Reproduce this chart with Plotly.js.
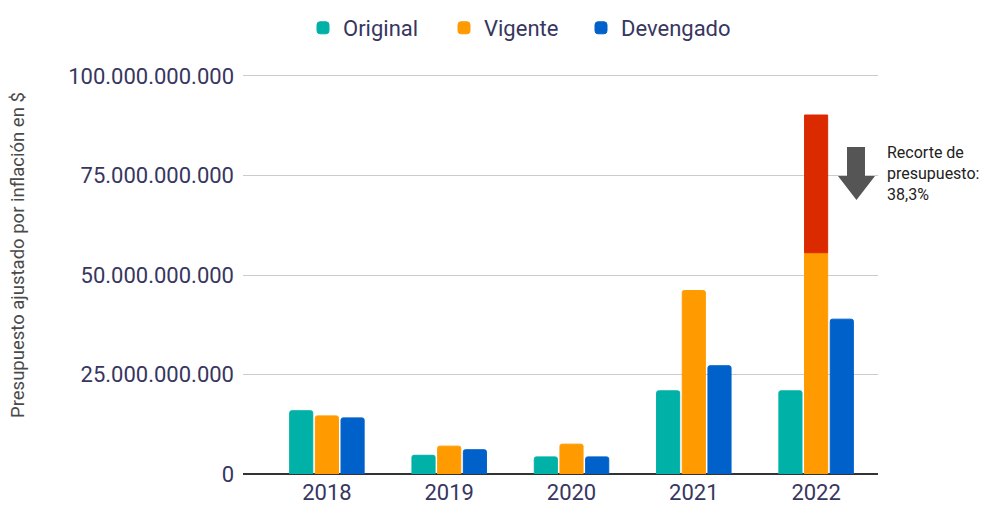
<!DOCTYPE html>
<html>
<head>
<meta charset="utf-8">
<script src="https://cdn.plot.ly/plotly-3.0.1.min.js"></script>
<style>html,body{margin:0;padding:0;background:#fff;}#chart{width:981px;height:505px;}</style>
</head>
<body>
<div id="chart"></div>
<script>
const years = ['2018', '2019', '2020', '2021', '2022'];
const original = [15.9e9, 4.7e9, 4.3e9, 20.9e9, 20.9e9];
const vigente = [14.6e9, 7.0e9, 7.5e9, 46.1e9, 55.6e9];
const devengado = [14.1e9, 6.1e9, 4.3e9, 27.2e9, 38.9e9];
const recorteYear = ['2022'];
const recorteTotal = [90.2e9];
const yTickVals = [0, 25e9, 50e9, 75e9, 100e9];
const yTickText = ['0', '25.000.000.000', '50.000.000.000', '75.000.000.000', '100.000.000.000'];

const vigBase = recorteYear.map(y => vigente[years.indexOf(y)]);
const recorteVals = recorteTotal.map((t, i) => t - vigBase[i]);

const font = 'Roboto, "Noto Sans", sans-serif';
const txtColor = '#37365f';

const traces = [
  {type: 'bar', name: 'Original', x: years, y: original, offsetgroup: 'o', legend: 'legend',
   marker: {color: '#00b1a8', line: {color: '#00b1a8', width: 1}, cornerradius: 2}, hoverinfo: 'none'},
  {type: 'bar', name: 'Vigente', x: years, y: vigente, offsetgroup: 'v', legend: 'legend2',
   marker: {color: '#ff9b00', line: {color: '#ff9b00', width: 1}, cornerradius: 2}, hoverinfo: 'none'},
  {type: 'bar', name: 'Devengado', x: years, y: devengado, offsetgroup: 'd', legend: 'legend3',
   marker: {color: '#0061cb', line: {color: '#0061cb', width: 1}, cornerradius: 2}, hoverinfo: 'none'},
  {type: 'bar', name: 'Recorte', x: recorteYear, y: recorteVals, base: vigBase, offsetgroup: 'v',
   showlegend: false, marker: {color: '#db2900', line: {color: '#db2900', width: 1}}, hoverinfo: 'none'}
];

const L = 243, R = 878, T = 74, B = 474;
const W = R - L, H = B - T;
const px = X => (X - L) / W;
const py = Y => (B - Y) / H;

const arrowPath = 'M' + [
  [847, 147], [865, 147], [865, 176], [875, 176], [856.5, 200], [838, 176], [847, 176]
].map(p => px(p[0]).toFixed(4) + ',' + py(p[1]).toFixed(4)).join(' L') + ' Z';

const legendBase = X => ({orientation: 'h', x: px(X), xanchor: 'left', y: py(28), yanchor: 'middle',
  font: {family: font, size: 22, color: txtColor}, bgcolor: 'rgba(0,0,0,0)'});

const layout = {
  width: 981, height: 505,
  margin: {l: L, r: 981 - R, t: T, b: 505 - B, pad: 0, autoexpand: false},
  paper_bgcolor: '#ffffff', plot_bgcolor: '#ffffff',
  font: {family: font, color: txtColor, size: 22},
  barmode: 'group', bargap: 0.37, bargroupgap: 0.1,
  showlegend: true,
  legend: legendBase(303),
  legend2: legendBase(444),
  legend3: legendBase(581),
  xaxis: {type: 'category', range: [-0.686, 4.506], showgrid: false, zeroline: false,
          showline: false, ticks: '', ticklabelstandoff: 3, automargin: false,
          tickfont: {family: font, size: 22, color: txtColor}, fixedrange: true},
  yaxis: {range: [0, 100.5e9], tickvals: yTickVals, ticktext: yTickText, showgrid: true, automargin: false,
          gridcolor: '#cccccc', gridwidth: 1, zeroline: true, zerolinecolor: '#333333', zerolinewidth: 1.5,
          showline: false, ticks: '', ticklabelstandoff: 8,
          tickfont: {family: font, size: 22, color: txtColor}, fixedrange: true},
  shapes: [
    {type: 'path', xref: 'paper', yref: 'paper', path: arrowPath, fillcolor: '#555555', line: {width: 0}}
  ],
  annotations: [
    {xref: 'paper', yref: 'paper', x: px(885), y: py(173), xanchor: 'left', yanchor: 'middle', align: 'left',
     showarrow: false, text: 'Recorte de<br>presupuesto:<br>38,3%',
     font: {family: font, size: 16, color: '#222222'}},
    {xref: 'paper', yref: 'paper', x: px(18), y: py(255), xanchor: 'center', yanchor: 'middle',
     textangle: -90, showarrow: false, text: 'Presupuesto ajustado por inflación en $',
     font: {family: font, size: 18.5, color: '#4a4a4a'}}
  ]
};

Plotly.newPlot('chart', traces, layout, {displayModeBar: false, staticPlot: true});
</script>
</body>
</html>
